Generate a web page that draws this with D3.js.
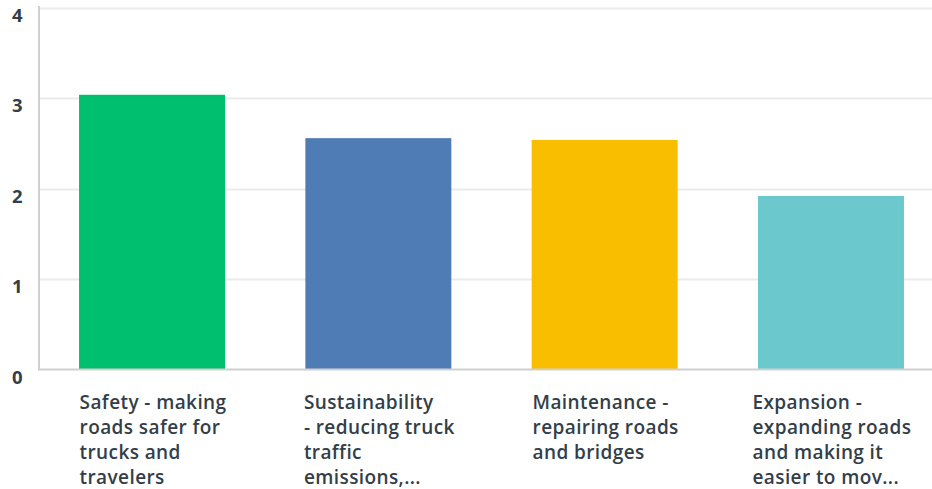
<!DOCTYPE html>
<html>
<head>
<meta charset="utf-8">
<script src="https://cdn.jsdelivr.net/npm/d3@7"></script>
<style>
  html, body { margin: 0; padding: 0; background: #fff; }
  svg { display: block; }
  text { font-family: "Open Sans", "Noto Sans", sans-serif; }
</style>
</head>
<body>
<svg id="chart" width="932" height="489"></svg>
<script>
const categories = [
  ["Safety - making", "roads safer for", "trucks and", "travelers"],
  ["Sustainability", "- reducing truck", "traffic", "emissions,..."],
  ["Maintenance -", "repairing roads", "and bridges"],
  ["Expansion -", "expanding roads", "and making it", "easier to mov..."]
];
const values = [3.04, 2.56, 2.54, 1.92];
const colors = ["#00bf6f", "#507cb6", "#f9be00", "#6bc8cd"];
const yTicks = [0, 1, 2, 3, 4];

const svg = d3.select("#chart");
const W = 932;
const axisX = 39;

const y = d3.scaleLinear().domain([0, 4]).range([369.5, 8]);
const x = d3.scaleBand()
  .domain(d3.range(categories.length))
  .range([axisX, 944])
  .paddingInner(0.355)
  .paddingOuter(0.177);

// gridlines
svg.append("g").selectAll("line")
  .data(yTicks.filter(d => d > 0))
  .join("line")
  .attr("x1", axisX).attr("x2", W)
  .attr("y1", d => Math.round(y(d)) + 0.5).attr("y2", d => Math.round(y(d)) + 0.5)
  .attr("stroke", "#ebebeb").attr("stroke-width", 2);

// bars
svg.append("g").selectAll("rect")
  .data(values)
  .join("rect")
  .attr("x", (d, i) => x(i))
  .attr("width", x.bandwidth())
  .attr("y", d => y(d))
  .attr("height", d => y(0) - y(d))
  .attr("fill", (d, i) => colors[i]);

// y axis line
svg.append("line")
  .attr("x1", axisX).attr("x2", axisX)
  .attr("y1", 6).attr("y2", 370)
  .attr("stroke", "#d0d0d0").attr("stroke-width", 2);
// baseline
svg.append("line")
  .attr("x1", axisX - 1).attr("x2", W)
  .attr("y1", 369.5).attr("y2", 369.5)
  .attr("stroke", "#d0d0d0").attr("stroke-width", 2);

// y tick labels
svg.append("g").selectAll("text")
  .data(yTicks)
  .join("text")
  .attr("x", 12)
  .attr("y", d => y(d) + 14)
  .attr("fill", "#333e48")
  .attr("font-size", 18.5)
  .attr("font-weight", 700)
  .text(d => d);

// category labels: block left-aligned, widest line centred under the bar
const lab = svg.append("g").selectAll("text")
  .data(categories)
  .join("text")
  .attr("y", 408.5)
  .attr("fill", "#333e48")
  .attr("font-size", 19)
  .attr("letter-spacing", 0.4)
  .attr("font-weight", 600);
lab.selectAll("tspan")
  .data(d => d)
  .join("tspan")
  .attr("dy", (d, i) => i === 0 ? 0 : 25)
  .text(d => d);
lab.each(function(d, i) {
  const t = d3.select(this);
  let maxW = 0;
  t.selectAll("tspan").each(function() { maxW = Math.max(maxW, this.getComputedTextLength()); });
  const cx = x(i) + x.bandwidth() / 2 + 1;
  const left = cx - maxW / 2;
  t.attr("x", left);
  t.selectAll("tspan").attr("x", left);
});
</script>
</body>
</html>
